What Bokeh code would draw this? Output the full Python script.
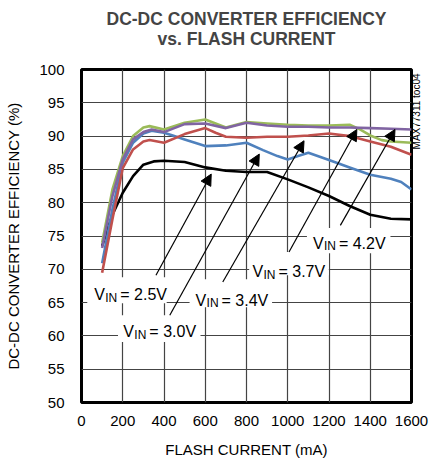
from bokeh.plotting import figure
from bokeh.models import (Range1d, FixedTicker, BoxAnnotation, Label, Arrow, NormalHead, Title,
                          LinearAxis, CustomJSTickFormatter)
from bokeh.embed import file_html
from bokeh.resources import INLINE
import math

FONT = "Liberation Sans"

# ---- data ----
x_25 = [100, 150, 200, 250, 300, 350, 400, 500, 600, 700, 800, 900, 1000, 1100, 1200, 1300, 1400, 1500, 1600]
y_25 = [73.5, 78.2, 81.5, 84.0, 85.7, 86.2, 86.3, 86.1, 85.3, 84.8, 84.6, 84.6, 83.5, 82.3, 81.0, 79.5, 78.2, 77.6, 77.5]

x_30 = [100, 150, 200, 250, 300, 340, 400, 450, 500, 600, 700, 800, 880, 950, 1000, 1050, 1100, 1200, 1300, 1400, 1500, 1550, 1600]
y_30 = [70.9, 79.0, 86.0, 89.0, 90.4, 90.8, 90.5, 90.0, 89.5, 88.5, 88.6, 89.0, 87.9, 87.0, 86.5, 87.0, 87.5, 86.4, 85.3, 84.2, 83.6, 83.1, 82.0]

x_34 = [100, 150, 200, 250, 300, 330, 400, 500, 600, 650, 700, 800, 900, 1000, 1100, 1200, 1300, 1400, 1500, 1600]
y_34 = [69.5, 77.5, 85.2, 88.0, 89.2, 89.4, 89.0, 90.3, 91.2, 90.5, 89.9, 89.75, 89.9, 89.9, 90.1, 90.4, 90.0, 89.2, 88.4, 87.2]

x_37 = [100, 150, 200, 250, 300, 330, 400, 500, 600, 700, 800, 900, 1000, 1100, 1200, 1300, 1350, 1400, 1456, 1500, 1600]
y_37 = [74.0, 82.0, 87.0, 90.0, 91.3, 91.5, 91.0, 92.0, 92.5, 91.3, 92.1, 91.9, 91.7, 91.6, 91.6, 91.7, 91.0, 90.1, 89.4, 89.2, 89.0]

x_42 = [100, 150, 200, 250, 300, 340, 400, 500, 600, 700, 800, 900, 1000, 1100, 1200, 1300, 1400, 1500, 1600]
y_42 = [73.2, 81.0, 86.5, 89.5, 90.6, 91.0, 90.6, 91.8, 91.9, 91.2, 92.0, 91.6, 91.4, 91.4, 91.3, 91.3, 91.2, 91.1, 91.0]

x_ticks = [0, 200, 400, 600, 800, 1000, 1200, 1400, 1600]
y_ticks = [50, 55, 60, 65, 70, 75, 80, 85, 90, 95, 100]

# annotation labels
vin_texts = ["= 2.5V", "= 3.0V", "= 3.4V", "= 3.7V", "= 4.2V"]
lab_x = [62, 203, 553, 829, 1122]
lab_y = [66.2, 60.6, 65.35, 69.6, 73.9]
box_l = [28, 177, 524, 813, 1093]
box_r = [413, 577, 924, 1199, 1498]
box_b = [64.9, 59.1, 64.3, 69.1, 72.4]
box_t = [68.8, 63.1, 68.5, 72.6, 76.2]
arr_x0 = [361, 428, 685, 1006, 1255]
arr_y0 = [69.1, 63.1, 68.1, 72.6, 76.6]
arr_x1 = [629, 862, 1079, 1335, 1520]
arr_y1 = [84.3, 87.3, 89.3, 91.0, 91.0]

p = figure(width=430, height=462, output_backend="svg", toolbar_location=None,
           x_range=Range1d(0, 1600), y_range=Range1d(50, 100),
           min_border_left=81, min_border_right=17, min_border_top=69, min_border_bottom=60,
           title=None)
p.background_fill_color = "white"
p.border_fill_color = "white"
p.outline_line_color = "black"
p.outline_line_width = 3

for ax, ticks in ((p.xaxis, x_ticks), (p.yaxis, y_ticks)):
    ax.ticker = FixedTicker(ticks=ticks)
    ax.axis_line_color = None
    ax.major_tick_line_color = None
    ax.minor_tick_line_color = None
    ax.major_tick_out = 0
    ax.major_tick_in = 0
    ax.minor_tick_out = 0
    ax.minor_tick_in = 0
    ax.major_label_text_font = FONT
    ax.major_label_text_font_size = "15px"
    ax.major_label_text_color = "black"
    ax.axis_label_text_font = FONT
    ax.axis_label_text_font_size = "15px"
    ax.axis_label_text_font_style = "normal"
    ax.axis_label_text_color = "black"

p.xaxis.axis_label = "FLASH CURRENT (mA)"
p.yaxis.axis_label = "DC-DC CONVERTER EFFICIENCY (%)"
p.xaxis.major_label_standoff = 13
p.yaxis.major_label_standoff = 17
p.xaxis.axis_label_standoff = 12
p.yaxis.axis_label_standoff = 14

# right-side figure code, reading bottom to top
code_axis = LinearAxis(ticker=FixedTicker(ticks=[88.0]),
                       formatter=CustomJSTickFormatter(code="return 'MAX77311 toc04'"),
                       major_label_orientation=math.pi / 2, major_label_standoff=5,
                       major_label_text_font=FONT, major_label_text_font_size="10px",
                       major_label_text_color="black", axis_line_color=None,
                       major_tick_line_color=None, minor_tick_line_color=None,
                       major_tick_out=0, major_tick_in=0, minor_tick_out=0, minor_tick_in=0)
p.add_layout(code_axis, "right")

p.grid.grid_line_color = "#444444"
p.grid.grid_line_width = 1.2
p.xgrid.ticker = FixedTicker(ticks=x_ticks)
p.ygrid.ticker = FixedTicker(ticks=y_ticks)

p.line(x_25, y_25, line_color="black", line_width=2.6)
p.line(x_30, y_30, line_color="#4F81BD", line_width=2.6)
p.line(x_34, y_34, line_color="#C0504D", line_width=2.6)
p.line(x_37, y_37, line_color="#9BBB59", line_width=2.6)
p.line(x_42, y_42, line_color="#8064A2", line_width=2.6)

for i in range(len(vin_texts)):
    p.add_layout(BoxAnnotation(left=box_l[i], right=box_r[i], bottom=box_b[i], top=box_t[i],
                               fill_color="white", fill_alpha=1.0, line_color=None))
for i in range(len(vin_texts)):
    p.add_layout(Arrow(end=NormalHead(size=11, fill_color="black", line_color="black", line_width=1),
                       x_start=arr_x0[i], y_start=arr_y0[i], x_end=arr_x1[i], y_end=arr_y1[i],
                       line_color="black", line_width=1.2))
    common = dict(x=lab_x[i], y=lab_y[i], text_font=FONT, text_color="black",
                  text_align="left", text_baseline="alphabetic")
    p.add_layout(Label(text="V", text_font_size="16px", x_offset=0, y_offset=0, **common))
    p.add_layout(Label(text="IN", text_font_size="12px", x_offset=11, y_offset=-3, **common))
    p.add_layout(Label(text=vin_texts[i], text_font_size="16px", x_offset=26, y_offset=0, **common))

# two centred title lines (second line nearest the frame)
p.add_layout(Title(text="vs. FLASH CURRENT", align="center", text_font=FONT,
                   text_font_size="17.5px", text_font_style="bold", standoff=42), "above")
p.add_layout(Title(text="DC-DC CONVERTER EFFICIENCY", align="center", text_font=FONT,
                   text_font_size="17.5px", text_font_style="bold", standoff=-46), "above")

open("out.html", "w").write(file_html(p, INLINE))
